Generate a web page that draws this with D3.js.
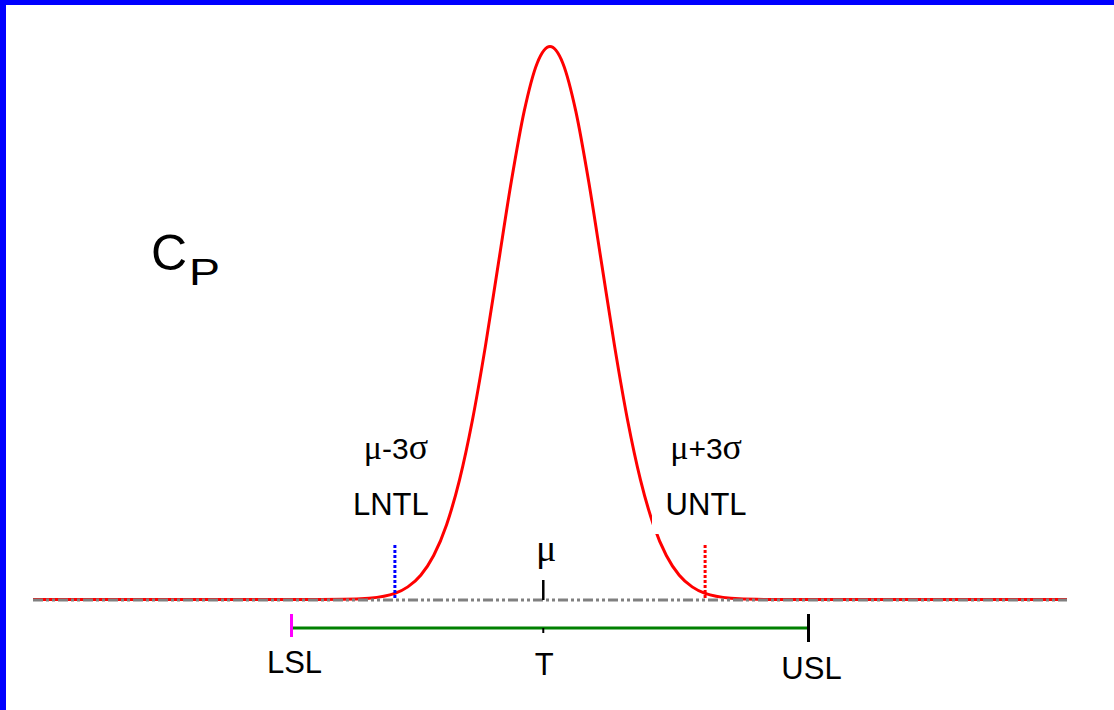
<!DOCTYPE html>
<html>
<head>
<meta charset="utf-8">
<script src="https://cdn.jsdelivr.net/npm/d3@7"></script>
<style>
  html, body { margin: 0; padding: 0; background: #fff; }
  svg { display: block; }
  text { font-family: "Liberation Sans", Arial, sans-serif; fill: #000; }
  .greek { font-family: "Liberation Serif", "Times New Roman", serif; }
</style>
</head>
<body>
<svg id="chart" width="1114" height="710"></svg>
<script>
// ---- data ----
const curveX = [90, 93, 95, 96, 96.5, 97, 97.25, 97.5, 97.75, 98, 98.25, 98.5, 98.75, 99, 99.25, 99.5, 99.75,
                100, 100.25, 100.5, 100.75, 101, 101.25, 101.5, 101.75, 102, 102.25, 102.5, 102.75, 103, 103.5, 104, 105, 107, 110];
const curveDensity = [0, 0, 0, 0.0001, 0.0009, 0.0044, 0.0091, 0.0175, 0.0317, 0.0540, 0.0863, 0.1295, 0.1826, 0.2420, 0.3011, 0.3521, 0.3867,
                0.3989, 0.3867, 0.3521, 0.3011, 0.2420, 0.1826, 0.1295, 0.0863, 0.0540, 0.0317, 0.0175, 0.0091, 0.0044, 0.0009, 0.0001, 0, 0, 0];
const specNames = ["LSL", "T", "USL"];
const specValues = [95, 99.87, 105];
const sigmaLabels = ["μ-3σ", "μ+3σ"];
const toleranceNames = ["LNTL", "UNTL"];
const toleranceValues = [97, 103];
const meanMarker = 99.87;
const xDomain = [90, 110];
const yDomain = [0, 0.4];

// ---- drawing ----
const svg = d3.select("#chart");
const x = d3.scaleLinear().domain(xDomain).range([33, 1067]);
const y = d3.scaleLinear().domain(yDomain).range([600, 45.5]);

// border (top and left)
svg.append("rect").attr("x", 0).attr("y", 0).attr("width", 1114).attr("height", 5).attr("fill", "#0000ff");
svg.append("rect").attr("x", 0).attr("y", 0).attr("width", 6).attr("height", 710).attr("fill", "#0000ff");

// red normal curve
const pts = curveX.map((v, i) => [v, curveDensity[i]]);
const line = d3.line().x(d => x(d[0])).y(d => y(d[1]) - 0.5).curve(d3.curveMonotoneX);
svg.append("path").datum(pts).attr("d", line)
  .attr("fill", "none").attr("stroke", "#ff0000").attr("stroke-width", 3);

// white label box for UNTL (covers a bit of the curve)
svg.append("rect").attr("x", 652).attr("y", 486).attr("width", 108).attr("height", 48).attr("fill", "#fff");

// grey dash-dot-dot baseline
svg.append("line")
  .attr("x1", x(xDomain[0])).attr("x2", x(xDomain[1]))
  .attr("y1", y(0)).attr("y2", y(0))
  .attr("stroke", "#808080").attr("stroke-width", 3)
  .attr("stroke-dasharray", "10,3,3,3,3,3");

// ±3σ dotted lines
const tolColors = ["#0000ff", "#ff0000"];
toleranceValues.forEach((v, i) => {
  svg.append("line")
    .attr("x1", x(v)).attr("x2", x(v))
    .attr("y1", y(0) - 55).attr("y2", y(0))
    .attr("stroke", tolColors[i]).attr("stroke-width", 3)
    .attr("stroke-dasharray", "3,2");
});

// mean marker
svg.append("line").attr("x1", x(meanMarker)).attr("x2", x(meanMarker))
  .attr("y1", y(0) - 20).attr("y2", y(0)).attr("stroke", "#000").attr("stroke-width", 2.5);
svg.append("text").attr("class", "greek").attr("x", x(meanMarker) + 3).attr("y", 561)
  .attr("text-anchor", "middle").attr("font-size", 38).text("μ");

// spec line
const specY = 628;
svg.append("line").attr("x1", x(specValues[0])).attr("x2", x(specValues[2]))
  .attr("y1", specY).attr("y2", specY).attr("stroke", "#008000").attr("stroke-width", 3);
svg.append("line").attr("x1", x(specValues[0])).attr("x2", x(specValues[0]))
  .attr("y1", 614).attr("y2", 637).attr("stroke", "#ff00ff").attr("stroke-width", 3);
svg.append("line").attr("x1", x(specValues[2])).attr("x2", x(specValues[2]))
  .attr("y1", 614).attr("y2", 642).attr("stroke", "#000").attr("stroke-width", 3);
svg.append("line").attr("x1", x(specValues[1])).attr("x2", x(specValues[1]))
  .attr("y1", 628).attr("y2", 633).attr("stroke", "#000").attr("stroke-width", 2);

// spec labels
const specLabelDx = [3, 1, 3];
const specLabelY = [673, 675, 679];
specNames.forEach((n, i) => {
  svg.append("text").attr("x", x(specValues[i]) + specLabelDx[i]).attr("y", specLabelY[i])
    .attr("text-anchor", "middle").attr("font-size", 31).text(n);
});

// tolerance labels
const tolLabelDx = [-4, 1];
toleranceNames.forEach((n, i) => {
  svg.append("text").attr("x", x(toleranceValues[i]) + tolLabelDx[i]).attr("y", 515)
    .attr("text-anchor", "middle").attr("font-size", 31).text(n);
});

// sigma labels
sigmaLabels.forEach((s, i) => {
  const t = svg.append("text").attr("x", x(toleranceValues[i]) + 1).attr("y", 459)
    .attr("text-anchor", "middle").attr("font-size", 30);
  t.append("tspan").attr("class", "greek").attr("font-size", 34).text(s[0]);
  t.append("tspan").text(s.slice(1, 3));
  t.append("tspan").attr("class", "greek").attr("font-size", 36).text(s[3]);
});

// Cp title
svg.append("text").attr("x", 151).attr("y", 270).attr("font-size", 50).text("C");
svg.append("text").attr("x", 189).attr("y", 285).attr("font-size", 36)
  .attr("textLength", 31).attr("lengthAdjust", "spacingAndGlyphs").text("P");
</script>
</body>
</html>
